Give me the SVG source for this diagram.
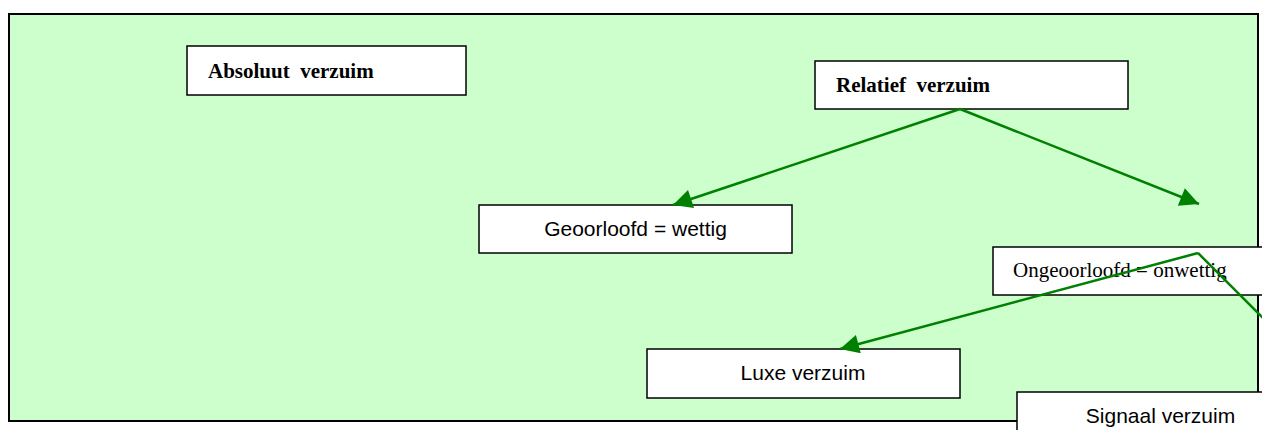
<svg xmlns="http://www.w3.org/2000/svg" width="1262" height="430" viewBox="0 0 1262 430">
<style>
.box{fill:#ffffff;stroke:#000000;stroke-width:1.5}
.serif{font-family:"Liberation Serif","Times New Roman",serif;font-size:21px;fill:#000;white-space:pre}
.bold{font-weight:bold}
.sans{font-family:"Liberation Sans",Arial,sans-serif;font-size:21px;fill:#000}
.conn{fill:none;stroke:#008000;stroke-width:2.5}
</style>
<defs>
<marker id="ah" viewBox="0 0 10 10" refX="10" refY="5" markerWidth="25" markerHeight="19" markerUnits="userSpaceOnUse" orient="auto">
<path d="M0,0 L10,5 L0,10 z" fill="#008000"/>
</marker>
</defs>
<rect width="1262" height="430" fill="#ffffff"/>
<rect id="frame" x="9" y="14" width="1249" height="407" fill="#ccffcc" stroke="#000" stroke-width="2"/>
<g id="absoluut">
<rect class="box" x="187" y="46" width="279" height="49"/>
<text class="serif bold" x="208" y="78" xml:space="preserve">Absoluut  verzuim</text>
</g>
<g id="relatief">
<rect class="box" x="815" y="61" width="313" height="48"/>
<text class="serif bold" x="836" y="92" xml:space="preserve">Relatief  verzuim</text>
</g>
<g id="geoorloofd">
<rect class="box" x="479" y="205" width="313" height="48"/>
<text class="sans" x="635.5" y="236" text-anchor="middle">Geoorloofd = wettig</text>
</g>
<g id="luxe">
<rect class="box" x="647" y="349" width="313" height="49"/>
<text class="sans" x="803" y="380" text-anchor="middle">Luxe verzuim</text>
</g>
<g id="ongeoorloofd">
<rect class="box" x="993" y="247" width="320" height="48"/>
<text class="serif" x="1013" y="277">Ongeoorloofd = onwettig</text>
</g>
<g id="signaal">
<rect class="box" x="1017" y="392" width="300" height="60"/>
<text class="sans" x="1160.5" y="423" text-anchor="middle">Signaal verzuim</text>
</g>
<g id="connectors">
<line class="conn" x1="960" y1="109" x2="673" y2="205" marker-end="url(#ah)"/>
<line class="conn" x1="960" y1="109" x2="1199" y2="204" marker-end="url(#ah)"/>
<line class="conn" x1="1198" y1="253" x2="840" y2="349" marker-end="url(#ah)"/>
<line class="conn" x1="1198" y1="253" x2="1275" y2="330"/>
</g>
</svg>
